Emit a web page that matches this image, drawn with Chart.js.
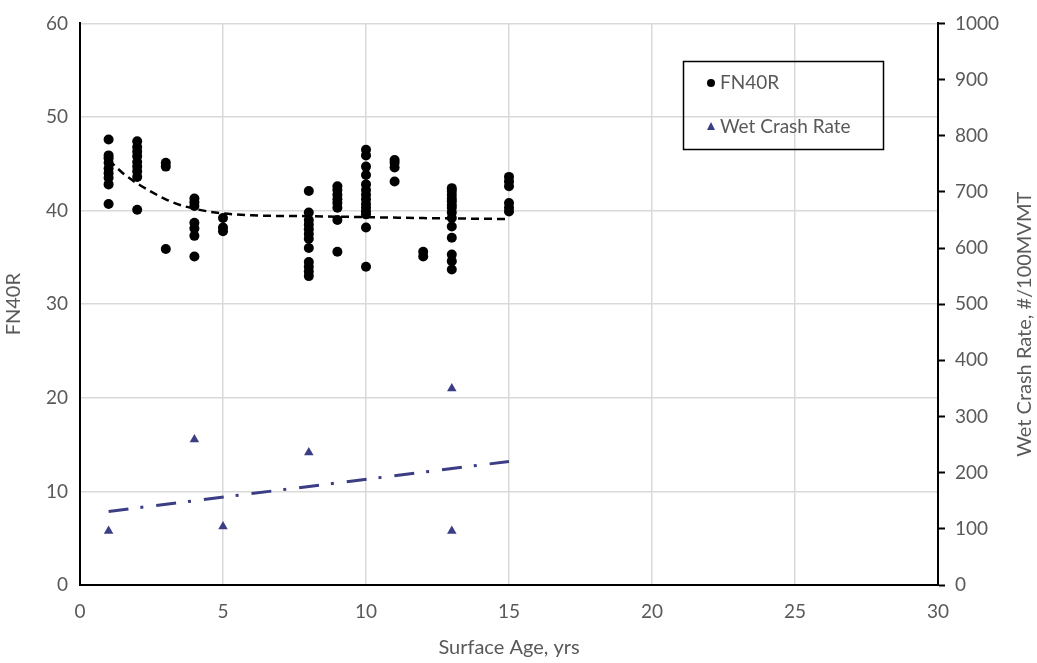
<!DOCTYPE html>
<html>
<head>
<meta charset="utf-8">
<script src="https://cdn.jsdelivr.net/npm/chart.js@4.4.1/dist/chart.umd.min.js"></script>
<style>
html,body{margin:0;padding:0;background:#fff;}
#wrap{width:1037px;height:663px;}
</style>
</head>
<body>
<div id="wrap"><canvas id="c" width="1037" height="663"></canvas></div>
<script>
// ---- Data ----
const fnAges = [
  1,1,1,1,1,1,1,1,1,
  2,2,2,2,2,2,2,2,2,
  3,3,3,
  4,4,4,4,4,4,4,
  5,5,5,
  8,8,8,8,8,8,8,8,8,8,8,8,
  9,9,9,9,9,9,9,9,
  10,10,10,10,10,10,10,10,10,10,10,10,10,10,
  11,11,11,11,
  12,12,
  13,13,13,13,13,13,13,13,13,13,13,13,13,13,
  15,15,15,15,15,15
];
const fnValues = [
  47.6,45.9,45.6,45.1,44.5,44.0,43.5,42.8,40.7,
  47.4,46.8,46.3,45.8,45.2,44.7,44.2,43.6,40.1,
  45.1,44.7,35.9,
  41.3,40.9,40.5,38.7,38.1,37.3,35.1,
  39.2,38.2,37.8,
  42.1,39.8,39.0,38.5,38.0,37.5,37.0,36.0,34.5,34.0,33.5,33.0,
  42.6,42.2,41.7,41.2,40.8,40.3,39.0,35.6,
  46.5,45.9,44.7,43.8,42.8,42.2,41.7,41.2,40.7,40.3,39.9,39.6,38.2,34.0,
  45.4,45.1,44.6,43.1,
  35.6,35.1,
  42.4,42.1,41.7,41.3,41.0,40.6,40.3,39.8,39.2,38.3,37.1,35.3,34.6,33.7,
  43.6,43.1,42.6,40.8,40.3,39.9
];
const fnTrendAges   = [1, 1.5, 2, 2.5, 3, 3.5, 4, 4.5, 5, 6, 8, 10, 12, 15];
const fnTrendValues = [45.4, 44.0, 42.9, 42.0, 41.2, 40.6, 40.2, 39.9, 39.7, 39.5, 39.4, 39.3, 39.2, 39.1];

const crashAges  = [1, 4, 5, 8, 13, 13];
const crashRates = [96, 259, 104, 236, 350, 96];
const crashTrendAges  = [1, 15];
const crashTrendRates = [131, 220];

const xTicks = [0, 5, 10, 15, 20, 25, 30];
const seriesNames = ['FN40R', 'Wet Crash Rate'];
const axisTitles = ['Surface Age, yrs', 'FN40R', 'Wet Crash Rate, #/100MVMT'];

// ---- Build ----
const pts = (xs, ys) => xs.map((x, i) => ({x: x, y: ys[i]}));
const GREY = '#595959';
const NAVY = '#3b3d85';
const FONT = 'Lato, "Liberation Sans", sans-serif';
const TICK_SIZE = 19;
const TITLE_SIZE = 20;

const overlayPlugin = {
  id: 'overlay',
  afterDraw(chart) {
    const ctx = chart.ctx;
    ctx.save();
    // legend box
    ctx.strokeStyle = '#000';
    ctx.lineWidth = 1.5;
    ctx.strokeRect(683.5, 61.5, 200, 88);
    ctx.fillStyle = '#000';
    ctx.beginPath();
    ctx.arc(711, 83, 4, 0, Math.PI * 2);
    ctx.fill();
    ctx.fillStyle = NAVY;
    ctx.beginPath();
    ctx.moveTo(711, 122);
    ctx.lineTo(715, 130);
    ctx.lineTo(707, 130);
    ctx.closePath();
    ctx.fill();
    ctx.fillStyle = GREY;
    ctx.font = TICK_SIZE + 'px ' + FONT;
    ctx.textBaseline = 'middle';
    ctx.textAlign = 'left';
    ctx.fillText(seriesNames[0], 720, 83);
    ctx.fillText(seriesNames[1], 720, 127);
    // right axis title, reading bottom-to-top
    const ca = chart.chartArea;
    ctx.translate(1025, (ca.top + ca.bottom) / 2 + 20);
    ctx.rotate(-Math.PI / 2);
    ctx.textAlign = 'center';
    ctx.font = TITLE_SIZE + 'px ' + FONT;
    ctx.fillText(axisTitles[2], 0, 0);
    ctx.restore();
  }
};

new Chart(document.getElementById('c'), {
  type: 'scatter',
  data: {
    datasets: [
      {
        label: seriesNames[0] + ' trend',
        type: 'line',
        data: pts(fnTrendAges, fnTrendValues),
        yAxisID: 'y',
        borderColor: '#000',
        borderWidth: 2.5,
        borderDash: [8, 5],
        pointRadius: 0,
        fill: false,
        cubicInterpolationMode: 'monotone',
        order: 1
      },
      {
        label: seriesNames[1] + ' trend',
        type: 'line',
        data: pts(crashTrendAges, crashTrendRates),
        yAxisID: 'y2',
        borderColor: NAVY,
        borderWidth: 3,
        borderDash: [20, 12, 3, 13],
        pointRadius: 0,
        fill: false,
        order: 1
      },
      {
        label: seriesNames[0],
        data: pts(fnAges, fnValues),
        yAxisID: 'y',
        backgroundColor: '#000',
        borderWidth: 0,
        pointRadius: 5,
        pointStyle: 'circle',
        order: 0
      },
      {
        label: seriesNames[1],
        data: pts(crashAges, crashRates),
        yAxisID: 'y2',
        backgroundColor: NAVY,
        borderColor: NAVY,
        borderWidth: 0,
        pointRadius: 5.5,
        pointStyle: 'triangle',
        order: 0
      }
    ]
  },
  options: {
    responsive: false,
    animation: false,
    devicePixelRatio: 1,
    layout: { padding: { top: 19, left: 0, right: 0, bottom: 0 } },
    plugins: { legend: { display: false }, tooltip: { enabled: false } },
    scales: {
      x: {
        type: 'linear', min: 0, max: 30,
        afterBuildTicks: s => { s.ticks = xTicks.map(v => ({value: v})); },
        ticks: { color: GREY, font: { family: FONT, size: TICK_SIZE }, padding: 15, maxRotation: 0 },
        grid: { color: '#d9d9d9', lineWidth: 1.5, drawTicks: false },
        border: { color: '#000', width: 2 },
        title: { display: true, text: axisTitles[0], color: GREY, font: { family: FONT, size: TITLE_SIZE }, padding: { top: 8, bottom: 3 } },
        afterFit: s => { s.height = 78; }
      },
      y: {
        position: 'left', min: 0, max: 60,
        ticks: { stepSize: 10, color: GREY, font: { family: FONT, size: TICK_SIZE }, padding: 12 },
        grid: { color: '#d9d9d9', lineWidth: 1.5, drawTicks: false },
        border: { color: '#000', width: 2 },
        title: { display: true, text: axisTitles[1], color: GREY, font: { family: FONT, size: TITLE_SIZE }, padding: { top: 2, bottom: 4 } },
        afterFit: s => { s.width = 80; }
      },
      y2: {
        position: 'right', min: 0, max: 1000,
        ticks: { stepSize: 100, color: GREY, font: { family: FONT, size: TICK_SIZE }, padding: 10,
                 callback: v => String(v) },
        grid: { drawOnChartArea: false, drawTicks: true, tickLength: 7, tickColor: '#000', tickWidth: 2 },
        border: { color: '#000', width: 2 },
        title: { display: false },
        afterFit: s => { s.width = 99; }
      }
    }
  },
  plugins: [overlayPlugin]
});
</script>
</body>
</html>
